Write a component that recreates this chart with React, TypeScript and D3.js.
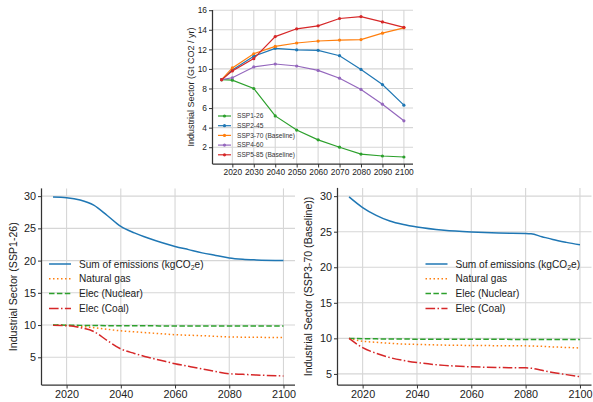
import React, { useEffect, useRef } from 'react';
import * as d3 from 'd3';

// top panel: scenario totals
const decades = [2015, 2020, 2030, 2040, 2050, 2060, 2070, 2080, 2090, 2100];
const scenarioNames = ["SSP1-26", "SSP2-45", "SSP3-70 (Baseline)", "SSP4-60", "SSP5-85 (Baseline)"];
const ssp126 = [8.9, 8.85, 8.0, 5.2, 3.75, 2.75, 2.0, 1.3, 1.1, 1.0];
const ssp245 = [8.9, 9.9, 11.3, 12.1, 11.95, 11.9, 11.35, 9.95, 8.4, 6.3];
const ssp370 = [8.9, 10.1, 11.55, 12.3, 12.65, 12.85, 12.95, 13.0, 13.65, 14.2];
const ssp460 = [8.9, 9.1, 10.2, 10.5, 10.3, 9.85, 9.05, 7.9, 6.4, 4.7];
const ssp585 = [8.9, 9.8, 11.05, 13.3, 14.1, 14.4, 15.15, 15.35, 14.8, 14.25];
const scenarioColors = ["#2ca02c", "#1f77b4", "#ff7f0e", "#9467bd", "#d62728"];
const topYTicks = [2, 4, 6, 8, 10, 12, 14, 16];
const topXTicks = [2020, 2030, 2040, 2050, 2060, 2070, 2080, 2090, 2100];

// bottom panels: breakdown
const seriesNames = ["Sum of emissions", "Natural gas", "Elec (Nuclear)", "Elec (Coal)"];
const s1Years = [2015, 2020, 2025, 2030, 2035, 2040, 2045, 2050, 2055, 2060, 2065, 2070, 2075, 2080, 2085, 2090, 2100];
const s1Sum = [29.85, 29.75, 29.4, 28.6, 27.0, 25.3, 24.3, 23.5, 22.8, 22.2, 21.7, 21.2, 20.8, 20.4, 20.2, 20.1, 20.0];
const s1Gas = [10.0, 9.95, 9.8, 9.6, 9.35, 9.1, 8.95, 8.8, 8.65, 8.5, 8.42, 8.35, 8.25, 8.15, 8.12, 8.1, 8.05];
const s1Nuclear = [10.0, 9.98, 9.95, 9.93, 9.9, 9.9, 9.88, 9.88, 9.87, 9.87, 9.86, 9.86, 9.86, 9.85, 9.85, 9.85, 9.85];
const s1Coal = [9.95, 9.9, 9.6, 9.0, 7.6, 6.3, 5.6, 5.0, 4.5, 4.0, 3.6, 3.2, 2.8, 2.45, 2.35, 2.25, 2.1];

const s3Years = [2015, 2020, 2025, 2030, 2035, 2040, 2050, 2060, 2070, 2080, 2082, 2086, 2090, 2095, 2100];
const s3Sum = [29.9, 28.4, 27.3, 26.5, 26.0, 25.65, 25.2, 24.95, 24.8, 24.75, 24.7, 24.3, 23.9, 23.5, 23.15];
const s3Gas = [10.0, 9.6, 9.45, 9.3, 9.2, 9.15, 9.05, 9.0, 8.97, 8.95, 8.93, 8.88, 8.8, 8.72, 8.65];
const s3Nuclear = [10.0, 9.95, 9.93, 9.9, 9.9, 9.88, 9.87, 9.86, 9.86, 9.85, 9.85, 9.85, 9.85, 9.85, 9.85];
const s3Coal = [10.0, 8.7, 7.9, 7.3, 6.9, 6.6, 6.2, 6.0, 5.9, 5.85, 5.8, 5.5, 5.2, 4.9, 4.6];
const bottomYTicks1 = [5, 10, 15, 20, 25, 30];
const bottomYTicks3 = [5, 10, 15, 20, 25, 30];
const bottomXTicks = [2020, 2040, 2060, 2080, 2100];

const breakdownColors = ["#1f77b4", "#ff7f0e", "#2ca02c", "#d62728"];
const breakdownDash = [null, "1.5,2.5", "5.5,2.4", "9.6,2.4,1.5,2.4"];

const FONT = "Liberation Sans, Arial, sans-serif";
const GRID = "#d6d6d6";
const SPINE = "#333";

const drawAxes = (g, x, y, xTicks, yTicks, box, fs) => {
    // grid
    g.append("g").selectAll("line").data(xTicks).join("line")
        .attr("x1", d => x(d)).attr("x2", d => x(d))
        .attr("y1", box.top).attr("y2", box.bottom)
        .attr("stroke", GRID).attr("stroke-width", 1.1);
    g.append("g").selectAll("line").data(yTicks).join("line")
        .attr("x1", box.left).attr("x2", box.right)
        .attr("y1", d => y(d)).attr("y2", d => y(d))
        .attr("stroke", GRID).attr("stroke-width", 1.1);

    const xa = g.append("g").attr("transform", `translate(0,${box.bottom})`)
        .call(d3.axisBottom(x).tickValues(xTicks).tickSize(3.5).tickPadding(2).tickFormat(d3.format("d")));
    const ya = g.append("g").attr("transform", `translate(${box.left},0)`)
        .call(d3.axisLeft(y).tickValues(yTicks).tickSize(3.5).tickPadding(2).tickFormat(d3.format("d")));
    [xa, ya].forEach(a => {
        a.select(".domain").remove();
        a.selectAll("line").attr("stroke", SPINE).attr("stroke-width", 1);
        a.selectAll("text").attr("font-family", FONT).attr("font-size", fs).attr("fill", "#222");
    });
    // spines
    g.append("line").attr("x1", box.left).attr("x2", box.left).attr("y1", box.top).attr("y2", box.bottom)
        .attr("stroke", SPINE).attr("stroke-width", 1.25);
    g.append("line").attr("x1", box.left).attr("x2", box.right).attr("y1", box.bottom).attr("y2", box.bottom)
        .attr("stroke", SPINE).attr("stroke-width", 1.25);
};

const drawTop = (svg) => {
    const box = { left: 212.5, right: 413, top: 10, bottom: 164 };
    const x = d3.scaleLinear().domain([2010.75, 2104.25]).range([box.left, box.right]);
    const y = d3.scaleLinear().domain([0.285, 16.02]).range([box.bottom, box.top]);
    const g = svg.append("g");
    drawAxes(g, x, y, topXTicks, topYTicks, box, 8.4);

    const all = [ssp126, ssp245, ssp370, ssp460, ssp585];
    const line = d3.line().x((d, i) => x(decades[i])).y(d => y(d));
    all.forEach((vals, k) => {
        g.append("path").attr("d", line(vals)).attr("fill", "none")
            .attr("stroke", scenarioColors[k]).attr("stroke-width", 1.2);
        g.append("g").selectAll("circle").data(vals).join("circle")
            .attr("cx", (d, i) => x(decades[i])).attr("cy", d => y(d)).attr("r", 1.6)
            .attr("fill", scenarioColors[k]);
    });

    const lg = g.append("g");
    scenarioNames.forEach((name, k) => {
        const ly = 116 + k * 9.7;
        lg.append("line").attr("x1", 218).attr("x2", 231).attr("y1", ly).attr("y2", ly)
            .attr("stroke", scenarioColors[k]).attr("stroke-width", 1.2);
        lg.append("circle").attr("cx", 224.5).attr("cy", ly).attr("r", 1.6).attr("fill", scenarioColors[k]);
        lg.append("text").attr("x", 237).attr("y", ly).attr("dy", "0.35em")
            .attr("font-family", FONT).attr("font-size", 6.6).attr("fill", "#333").text(name);
    });

    svg.append("text").attr("transform", `translate(194,${(box.top + box.bottom) / 2}) rotate(-90)`)
        .attr("text-anchor", "middle").attr("font-family", FONT).attr("font-size", 9).attr("fill", "#222")
        .text("Industrial Sector (Gt CO2 / yr)");
};

const drawBottom = (svg, box, yDomain, years, series, yTicks, label, labelX, legendX) => {
    const x = d3.scaleLinear().domain([2010.75, 2104.25]).range([box.left, box.right]);
    const y = d3.scaleLinear().domain(yDomain).range([box.bottom, box.top]);
    const g = svg.append("g");
    drawAxes(g, x, y, bottomXTicks, yTicks, box, 10.8);

    const line = d3.line().x((d, i) => x(years[i])).y(d => y(d)).curve(d3.curveMonotoneX);
    series.forEach((vals, k) => {
        const p = g.append("path").attr("d", line(vals)).attr("fill", "none")
            .attr("stroke", breakdownColors[k]).attr("stroke-width", 1.5);
        if (breakdownDash[k]) p.attr("stroke-dasharray", breakdownDash[k]);
    });

    const lg = g.append("g");
    seriesNames.forEach((name, k) => {
        const ly = 264 + k * 14.8;
        const l = lg.append("line").attr("x1", legendX).attr("x2", legendX + 22).attr("y1", ly).attr("y2", ly)
            .attr("stroke", breakdownColors[k]).attr("stroke-width", 1.5);
        if (breakdownDash[k]) l.attr("stroke-dasharray", breakdownDash[k]);
        const t = lg.append("text").attr("x", legendX + 30).attr("y", ly).attr("dy", "0.35em")
            .attr("font-family", FONT).attr("font-size", 10.1).attr("fill", "#222");
        if (k === 0) {
            t.append("tspan").text("Sum of emissions (kgCO");
            t.append("tspan").attr("font-size", 7).attr("dy", 2).text("2");
            t.append("tspan").attr("dy", -2).text("e)");
        } else {
            t.text(name);
        }
    });

    svg.append("text").attr("transform", `translate(${labelX},${(box.top + box.bottom) / 2}) rotate(-90)`)
        .attr("text-anchor", "middle").attr("font-family", FONT).attr("font-size", 10.6).attr("fill", "#222")
        .text(label);
};

const App = () => {
    const wrapper = useRef(null);

    useEffect(() => {
        d3.select(wrapper.current).selectAll("svg").remove();
        const svg = d3.select(wrapper.current).append("svg")
            .attr("width", 593).attr("height", 402)
            .style("position", "absolute").style("left", "0px").style("top", "0px")
            .style("background", "#fff");

        drawTop(svg);
        drawBottom(svg, { left: 41.5, right: 295, top: 188.4, bottom: 385 }, [0.7, 31.2], s1Years,
            [s1Sum, s1Gas, s1Nuclear, s1Coal], bottomYTicks1, "Industrial Sector (SSP1-26)", 17, 49);
        drawBottom(svg, { left: 337.5, right: 591.5, top: 187.9, bottom: 385 }, [3.44, 31.16], s3Years,
            [s3Sum, s3Gas, s3Nuclear, s3Coal], bottomYTicks3, "Industrial Sector (SSP3-70 (Baseline))", 312, 425.5);
    }, []);

    return <div ref={wrapper} />;
};

export default App;
